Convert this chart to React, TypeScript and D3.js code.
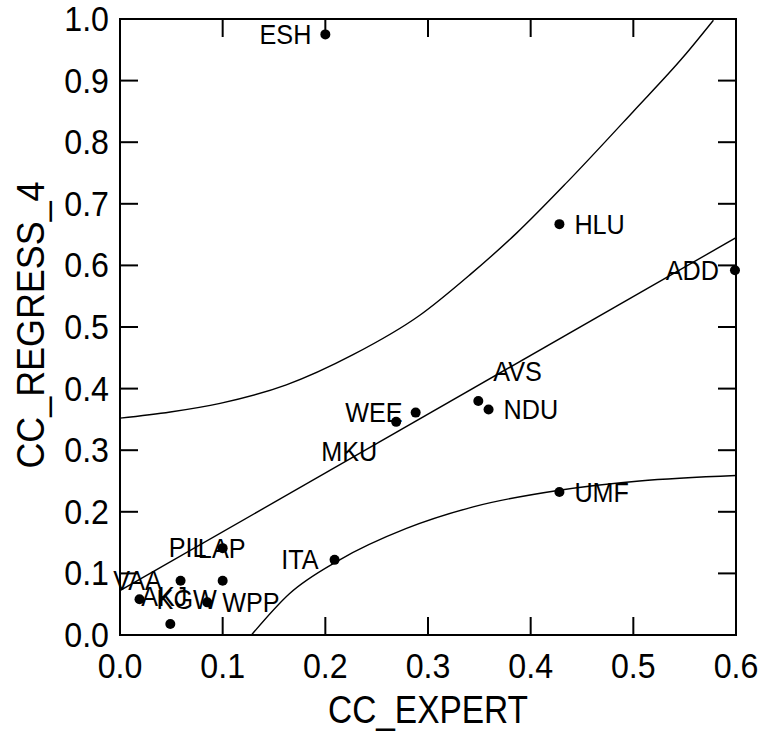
import React from "react";
import * as d3 from "d3";

// points
const names = ["ESH", "HLU", "ADD", "AVS", "NDU", "WEE", "MKU", "ITA", "UMF", "LAP", "PIL", "KGW", "VAA", "WPP", "AKJ"];
const ccExpert = [0.2, 0.428, 0.599, 0.349, 0.359, 0.288, 0.269, 0.209, 0.428, 0.1, 0.059, 0.1, 0.019, 0.085, 0.049];
const ccRegress = [0.975, 0.667, 0.592, 0.38, 0.366, 0.361, 0.346, 0.122, 0.232, 0.141, 0.088, 0.088, 0.058, 0.053, 0.018];

// label placement: [dx, dy, anchor]
const labelPos: [number, number, string][] = [
  [-14, 0, "end"], [15, 0, "start"], [-16, 0, "end"], [15, -29, "start"], [15, 0, "start"],
  [-13, 0, "end"], [-19, 30, "end"], [-16, 0, "end"], [15, 0, "start"], [-1, 0, "middle"],
  [7, -33, "middle"], [-36, 19, "middle"], [-2, -19, "middle"], [15, 0, "start"], [-6, -27, "middle"],
];

// regression line and bands
const fitX = [0, 0.6];
const fitY = [0.072, 0.645];
const upperX = [0, 0.049, 0.0975, 0.162, 0.227, 0.292, 0.341, 0.386, 0.436, 0.5, 0.549, 0.578];
const upperY = [0.352, 0.362, 0.376, 0.406, 0.455, 0.519, 0.585, 0.652, 0.736, 0.85, 0.939, 0.998];
const lowerX = [0.128, 0.165, 0.214, 0.279, 0.344, 0.428, 0.506, 0.6];
const lowerY = [0, 0.067, 0.122, 0.173, 0.208, 0.235, 0.25, 0.259];

const xTicks = [0, 0.1, 0.2, 0.3, 0.4, 0.5, 0.6];
const yTicks = [0, 0.1, 0.2, 0.3, 0.4, 0.5, 0.6, 0.7, 0.8, 0.9, 1.0];

const W = 763;
const H = 731;
const left = 120, right = 736, top = 19, bottom = 635;
const font = "'Liberation Sans', Arial, sans-serif";

// narrow-ish text like the original
const Label = ({ x, y, size, anchor = "middle", sx = 0.92, rotate = 0, children }: any) => (
  <text transform={`translate(${x},${y}) rotate(${rotate}) scale(${sx},1)`} textAnchor={anchor}
    dominantBaseline="central" fontSize={size}>
    {children}
  </text>
);

export default function App() {
  const x = d3.scaleLinear().domain([0, 0.6]).range([left, right]);
  const y = d3.scaleLinear().domain([0, 1]).range([bottom, top]);

  const line = d3.line<[number, number]>().x(d => x(d[0])).y(d => y(d[1]));
  const curve = d3.line<[number, number]>().x(d => x(d[0])).y(d => y(d[1])).curve(d3.curveMonotoneX);

  const fit = fitX.map((v, i) => [v, fitY[i]] as [number, number]);
  const upper = upperX.map((v, i) => [v, upperY[i]] as [number, number]);
  const lower = lowerX.map((v, i) => [v, lowerY[i]] as [number, number]);

  const tickLen = 18;
  const fmt = d3.format(".1f");

  return (
    <svg width={W} height={H} style={{ position: "absolute", left: 0, top: 0, background: "#fff" }}
      fontFamily={font}>
      <defs>
        <clipPath id="plot">
          <rect x={left} y={top} width={right - left} height={bottom - top} />
        </clipPath>
      </defs>

      <g clipPath="url(#plot)" fill="none" stroke="#000" strokeWidth={1.4}>
        <path d={line(fit) || ""} />
        <path d={curve(upper) || ""} />
        <path d={curve(lower) || ""} />
      </g>

      {/* frame + inward ticks */}
      <rect x={left} y={top} width={right - left} height={bottom - top} fill="none" stroke="#000" strokeWidth={2} />
      {xTicks.map(t => (
        <g key={"x" + t} stroke="#000" strokeWidth={2}>
          <line x1={x(t)} x2={x(t)} y1={bottom} y2={bottom - tickLen} />
          <line x1={x(t)} x2={x(t)} y1={top} y2={top + tickLen} />
        </g>
      ))}
      {yTicks.map(t => (
        <g key={"y" + t} stroke="#000" strokeWidth={2}>
          <line x1={left} x2={left + tickLen} y1={y(t)} y2={y(t)} />
          <line x1={right} x2={right - tickLen} y1={y(t)} y2={y(t)} />
        </g>
      ))}

      {xTicks.map(t => (
        <Label key={"xl" + t} x={x(t)} y={bottom + 31} size={35} sx={0.92}>{fmt(t)}</Label>
      ))}
      {yTicks.map(t => (
        <Label key={"yl" + t} x={left - 11} y={y(t)} size={35} sx={0.92} anchor="end">{fmt(t)}</Label>
      ))}

      <Label x={(left + right) / 2} y={710} size={38} sx={0.88}>CC_EXPERT</Label>
      <Label x={30} y={325} size={39} sx={0.92} rotate={-90}>CC_REGRESS_4</Label>

      {names.map((n, i) => (
        <g key={n}>
          <circle cx={x(ccExpert[i])} cy={y(ccRegress[i])} r={5} fill="#000" />
          <Label x={x(ccExpert[i]) + labelPos[i][0]} y={y(ccRegress[i]) + labelPos[i][1]}
            size={28} sx={0.9} anchor={labelPos[i][2]}>
            {n}
          </Label>
        </g>
      ))}
    </svg>
  );
}
